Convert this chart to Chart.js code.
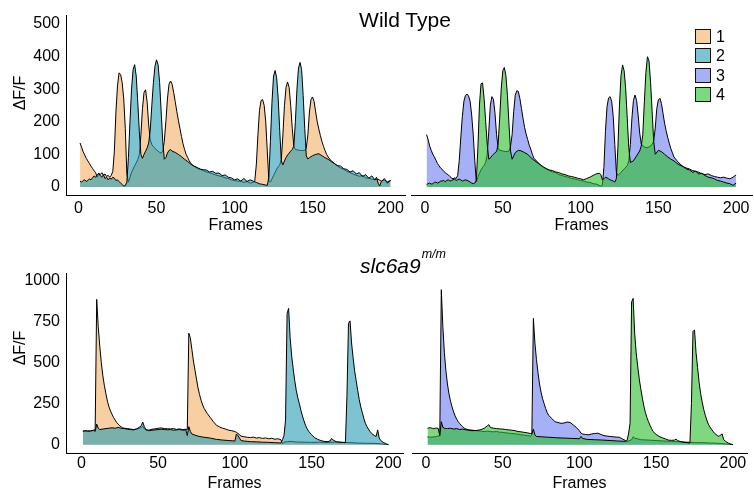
<!DOCTYPE html>
<html>
<head>
<meta charset="utf-8">
<script src="https://cdn.jsdelivr.net/npm/chart.js@4.4.1/dist/chart.umd.min.js"></script>
<style>
  body { margin: 0; background: #fff; font-family: "Liberation Sans", Arial, sans-serif; color: #000; }
  #wrap { position: relative; width: 754px; height: 493px; overflow: hidden; }
  canvas { position: absolute; }
  .heading { position: absolute; font-size: 21px; line-height: 21px; white-space: nowrap; }
  .ylab { position: absolute; width: 60px; height: 20px; line-height: 20px; font-size: 16px; text-align: center; transform: rotate(-90deg); }
  .key { position: absolute; left: 695px; width: 14px; height: 13px; border: 1px solid #111; }
  .keytxt { position: absolute; left: 716px; font-size: 16px; line-height: 16px; }
</style>
</head>
<body>
<div id="wrap">
  <canvas id="wtLeft" width="408" height="240" style="left:0;top:0"></canvas>
  <canvas id="wtRight" width="348" height="240" style="left:406px;top:0"></canvas>
  <canvas id="mutLeft" width="406" height="253" style="left:0;top:240px"></canvas>
  <canvas id="mutRight" width="348" height="253" style="left:406px;top:240px"></canvas>
  <div class="heading" style="left:305px;top:9px;width:200px;text-align:center">Wild Type</div>
  <div class="heading" style="left:360px;top:255px"><i>slc6a9</i><i style="font-size:12.5px;position:relative;top:-15px;margin-left:1px">m/m</i></div>
  <div class="ylab" style="left:-10px;top:83px">ΔF/F</div>
  <div class="ylab" style="left:-10px;top:338px">ΔF/F</div>
  <div id="legend"></div>
</div>
<script>
// frame ticks and y ticks
const frameTicks = [0, 50, 100, 150, 200];
const wtTicks = [0, 100, 200, 300, 400, 500];
const mutTicks = [0, 250, 500, 750, 1000];
const cellLabels = ['1', '2', '3', '4'];
const cellColors = ['rgba(243,175,100,0.6)', 'rgba(38,155,178,0.6)', 'rgba(107,123,240,0.6)', 'rgba(42,190,42,0.6)'];

// Wild type, [frame, dF/F]
const wtCell1 = [[1,135],[2,122],[3,108],[4,98],[5,88],[6,80],[7,72],[8,64],[9,57],[10,50],[11,44],[12,30],[13,42],[14,38],[15,44],[16,36],[17,40],[18,32],[19,36],[20,30],[21,36],[22,48],[23,110],[24,230],[25,310],[26,350],[27,345],[28,320],[29,270],[30,180],[31,40],[32,15],[33,30],[34,45],[35,55],[36,65],[37,74],[38,84],[39,100],[40,160],[41,240],[42,290],[43,298],[44,260],[45,190],[46,145],[47,130],[48,124],[49,118],[50,114],[51,110],[52,106],[53,104],[54,110],[55,140],[56,200],[57,270],[58,315],[59,325],[60,315],[61,290],[62,262],[63,232],[64,205],[65,180],[66,155],[67,132],[68,115],[69,100],[70,90],[71,80],[72,72],[74,64],[76,58],[78,54],[80,50],[82,46],[84,44],[86,40],[88,37],[90,34],[92,32],[94,28],[96,26],[98,22],[100,20],[102,18],[104,18],[106,14],[108,17],[110,12],[112,14],[113,20],[114,70],[115,160],[116,235],[117,265],[118,268],[119,250],[120,200],[121,110],[122,20],[123,15],[124,25],[125,35],[126,45],[127,55],[128,62],[129,68],[130,85],[131,160],[132,250],[133,305],[134,322],[135,305],[136,250],[137,180],[138,125],[139,115],[140,114],[141,113],[142,112],[143,112],[144,112],[145,112],[146,120],[147,160],[148,230],[149,268],[150,276],[151,262],[152,230],[153,200],[154,178],[155,158],[156,140],[157,125],[158,112],[159,100],[160,92],[162,80],[164,72],[166,64],[168,58],[170,54],[172,48],[174,44],[176,40],[178,36],[180,33],[182,35],[184,28],[186,27],[188,24],[190,22],[192,24],[194,18],[196,21],[198,16],[200,20]];
const wtCell2 = [[1,18],[2,15],[3,20],[4,22],[5,17],[6,20],[7,25],[8,22],[9,28],[10,34],[11,30],[12,38],[13,42],[14,34],[15,30],[16,38],[17,26],[18,30],[19,22],[20,28],[21,24],[22,30],[23,27],[24,20],[25,22],[26,17],[27,12],[28,8],[29,3],[30,4],[31,15],[32,90],[33,200],[34,300],[35,360],[36,375],[37,340],[38,260],[39,170],[40,100],[41,88],[42,100],[43,110],[44,120],[45,135],[46,175],[47,250],[48,320],[49,370],[50,390],[51,375],[52,320],[53,230],[54,140],[55,85],[56,90],[57,104],[58,112],[59,115],[60,110],[62,106],[64,100],[66,93],[68,85],[70,78],[72,70],[74,64],[76,60],[78,55],[80,53],[82,52],[84,46],[86,48],[88,42],[90,43],[92,35],[94,37],[96,30],[98,28],[100,22],[102,25],[104,18],[106,26],[108,17],[110,22],[112,18],[114,14],[116,10],[118,8],[120,6],[121,5],[122,30],[123,140],[124,260],[125,340],[126,357],[127,335],[128,270],[129,170],[130,80],[131,68],[132,80],[133,90],[134,98],[135,104],[136,110],[137,115],[138,125],[139,200],[140,300],[141,365],[142,382],[143,360],[144,280],[145,180],[146,95],[147,86],[148,90],[150,96],[152,100],[154,102],[156,96],[158,90],[160,85],[162,78],[164,72],[166,66],[168,64],[170,56],[172,54],[174,46],[176,50],[178,40],[180,44],[182,32],[184,38],[186,27],[188,34],[190,22],[191,30],[192,12],[193,3],[194,16],[196,26],[198,12],[200,20]];
const wtCell3 = [[1,160],[2,145],[3,125],[4,112],[5,100],[6,92],[7,82],[8,72],[9,65],[10,58],[11,54],[12,48],[13,44],[14,40],[15,37],[16,32],[17,28],[18,25],[19,28],[20,26],[21,35],[22,80],[23,150],[24,215],[25,262],[26,280],[27,284],[28,278],[29,262],[30,220],[31,160],[32,80],[33,15],[34,30],[35,42],[36,52],[37,60],[38,66],[39,75],[40,100],[41,170],[42,250],[43,276],[44,268],[45,225],[46,160],[47,120],[48,112],[50,110],[52,108],[54,110],[55,125],[56,160],[57,230],[58,280],[59,294],[60,292],[61,270],[62,240],[63,210],[64,182],[65,162],[66,145],[67,128],[68,115],[69,100],[70,88],[72,78],[74,68],[76,60],[78,55],[80,50],[82,46],[84,44],[86,38],[88,35],[90,32],[92,30],[94,26],[96,25],[98,22],[100,20],[102,18],[104,15],[106,14],[108,10],[110,9],[112,5],[113,3],[114,5],[115,60],[116,170],[117,245],[118,272],[119,276],[120,262],[121,215],[122,130],[123,45],[124,35],[126,45],[128,55],[130,65],[131,80],[132,130],[133,210],[134,265],[135,281],[136,265],[137,220],[138,165],[139,132],[140,126],[142,120],[144,122],[146,130],[147,140],[148,180],[149,240],[150,266],[151,271],[152,255],[153,225],[154,195],[155,172],[156,152],[157,134],[158,118],[159,105],[160,92],[162,80],[164,70],[166,62],[168,58],[170,55],[172,50],[174,48],[176,45],[178,40],[180,38],[182,40],[184,35],[186,32],[188,30],[190,28],[192,30],[194,27],[196,25],[198,30],[200,37]];
const wtCell4 = [[1,8],[2,10],[3,12],[4,9],[5,10],[6,14],[7,15],[8,12],[9,14],[10,18],[11,18],[12,20],[13,16],[14,20],[15,22],[16,18],[17,20],[18,22],[19,24],[20,20],[21,22],[22,24],[23,22],[24,18],[25,20],[26,22],[27,20],[28,18],[29,15],[30,12],[31,10],[32,12],[33,20],[34,120],[35,250],[36,315],[37,318],[38,270],[39,200],[40,130],[41,85],[42,88],[43,95],[44,100],[45,105],[46,108],[47,130],[48,210],[49,300],[50,355],[51,365],[52,340],[53,280],[54,190],[55,110],[56,85],[57,95],[58,105],[60,112],[62,110],[64,105],[66,100],[68,90],[70,82],[72,75],[74,68],[76,62],[78,56],[80,52],[82,50],[84,46],[86,44],[88,40],[90,38],[92,34],[94,32],[96,30],[98,27],[100,25],[102,22],[104,26],[106,30],[108,35],[110,40],[112,42],[113,38],[114,22],[115,25],[116,30],[117,28],[118,25],[119,22],[120,20],[121,18],[122,15],[123,25],[124,120],[125,250],[126,340],[127,373],[128,355],[129,300],[130,210],[131,120],[132,75],[134,80],[136,95],[138,110],[139,125],[140,160],[141,260],[142,350],[143,398],[144,385],[145,320],[146,230],[147,140],[148,100],[150,112],[152,108],[154,100],[156,92],[158,85],[160,80],[162,72],[164,66],[166,62],[168,55],[170,52],[172,45],[174,48],[176,40],[178,42],[180,35],[182,30],[184,28],[186,25],[188,20],[190,18],[192,15],[194,12],[196,10],[198,5],[200,12]];

// slc6a9 m/m
const mutCell1 = [[1,82],[2,84],[3,85],[4,83],[5,84],[6,82],[7,86],[8,88],[9,92],[10,886],[11,720],[12,600],[13,500],[14,420],[15,360],[16,310],[17,265],[18,230],[19,205],[20,185],[21,165],[22,150],[23,135],[24,125],[25,115],[26,108],[27,102],[28,100],[30,98],[32,95],[34,92],[36,95],[38,100],[39,105],[40,112],[41,96],[42,90],[44,88],[46,94],[48,96],[50,100],[52,102],[54,98],[56,97],[58,96],[60,98],[62,93],[64,96],[66,92],[68,94],[69,92],[70,680],[71,650],[72,580],[73,510],[74,455],[75,400],[76,345],[77,305],[78,270],[79,242],[80,220],[82,190],[84,165],[86,140],[88,118],[90,108],[92,100],[94,95],[96,88],[98,85],[100,80],[101,75],[102,68],[104,52],[106,48],[108,45],[110,43],[112,46],[114,40],[116,43],[118,38],[120,41],[122,36],[124,39],[126,33],[128,36],[130,30],[131,5],[132,15],[134,18],[136,20],[140,16],[145,15],[150,14],[155,15],[160,13],[165,16],[170,14],[175,12],[180,10],[185,8],[190,8],[195,5],[200,0]];
const mutCell2 = [[1,82],[2,83],[3,84],[4,82],[5,82],[6,84],[7,85],[8,88],[9,80],[10,125],[11,100],[12,92],[14,95],[16,98],[18,100],[20,103],[22,100],[24,105],[26,100],[28,98],[30,94],[32,92],[34,90],[36,96],[38,108],[39,115],[40,138],[41,110],[42,92],[44,85],[46,88],[48,90],[50,92],[52,94],[54,92],[56,90],[58,92],[60,88],[62,90],[64,92],[66,88],[68,90],[69,55],[70,110],[71,80],[72,65],[74,58],[76,52],[78,48],[80,45],[84,40],[88,32],[92,28],[96,25],[100,22],[101,65],[102,55],[104,25],[106,22],[108,20],[110,18],[114,17],[118,15],[122,14],[126,12],[130,10],[131,30],[132,55],[133,150],[134,800],[135,831],[136,650],[137,540],[138,460],[139,390],[140,330],[141,285],[142,250],[143,210],[144,175],[145,145],[146,118],[147,98],[148,82],[150,60],[152,42],[154,32],[156,25],[158,20],[160,18],[162,22],[163,38],[164,28],[166,18],[168,15],[170,14],[172,12],[173,300],[174,740],[175,755],[176,620],[177,530],[178,450],[179,390],[180,330],[181,275],[182,230],[183,195],[184,160],[185,130],[186,110],[187,95],[188,80],[189,70],[190,60],[191,55],[192,50],[193,90],[194,40],[195,25],[196,18],[197,12],[198,8],[199,3],[200,0]];
const mutCell3 = [[1,48],[2,46],[3,45],[4,47],[5,47],[6,49],[7,50],[8,52],[9,55],[10,945],[11,720],[12,560],[13,450],[14,370],[15,310],[16,265],[17,230],[18,200],[19,175],[20,155],[21,140],[22,128],[23,118],[24,110],[25,100],[26,96],[28,90],[30,88],[32,86],[34,84],[36,82],[38,80],[40,82],[42,80],[44,78],[46,80],[48,76],[50,75],[52,72],[54,70],[56,68],[58,66],[60,64],[62,60],[64,58],[66,55],[68,52],[69,60],[70,770],[71,620],[72,520],[73,440],[74,370],[75,320],[76,280],[77,250],[78,220],[79,195],[80,178],[82,160],[84,140],[86,135],[88,130],[90,132],[92,138],[94,135],[96,120],[98,105],[100,85],[101,70],[102,65],[104,62],[106,60],[108,65],[110,68],[112,70],[114,62],[116,55],[118,52],[120,50],[122,48],[124,46],[126,45],[128,35],[130,25],[131,20],[132,22],[134,30],[135,48],[136,40],[138,35],[140,30],[145,28],[150,25],[155,22],[160,20],[165,18],[170,15],[175,12],[180,12],[185,10],[190,8],[195,5],[200,0]];
const mutCell4 = [[1,100],[2,102],[3,103],[4,100],[5,98],[6,100],[7,101],[8,98],[9,55],[10,140],[11,105],[12,100],[14,98],[16,100],[18,95],[20,98],[22,92],[24,95],[26,90],[28,88],[30,85],[32,86],[34,88],[36,92],[38,100],[40,115],[41,122],[42,105],[44,100],[46,98],[48,96],[50,95],[52,92],[54,90],[56,88],[58,85],[60,80],[62,78],[64,75],[66,72],[68,68],[69,65],[70,95],[71,60],[72,50],[75,48],[80,45],[85,42],[90,40],[95,38],[100,36],[101,50],[102,38],[105,32],[110,30],[115,28],[120,25],[125,22],[130,20],[131,25],[132,65],[133,130],[134,870],[135,892],[136,680],[137,560],[138,475],[139,400],[140,340],[141,285],[142,235],[143,195],[144,165],[145,140],[146,118],[147,98],[148,80],[150,62],[152,50],[154,42],[156,35],[158,28],[160,26],[162,28],[163,34],[164,25],[166,18],[168,14],[170,12],[172,10],[173,250],[174,690],[175,700],[176,560],[177,470],[178,380],[179,310],[180,260],[181,215],[182,180],[183,150],[184,125],[185,108],[186,95],[187,82],[188,70],[189,62],[190,55],[191,50],[192,60],[193,65],[194,30],[195,22],[196,15],[197,10],[198,6],[199,2],[200,0]];

Chart.defaults.font.family = '"Liberation Sans", Arial, sans-serif';
Chart.defaults.color = '#000';

const toXY = pairs => pairs.map(([x, y]) => ({ x, y }));

function makePanel(id, under, over, colUnder, colOver, o) {
    return new Chart(document.getElementById(id), {
        type: 'line',
        data: {
            datasets: [
                { data: toXY(under), backgroundColor: colUnder, fill: 'origin', order: 2 },
                { data: toXY(over), backgroundColor: colOver, fill: 'origin', order: 1 }
            ]
        },
        options: {
            responsive: false,
            animation: false,
            layout: { padding: o.pad },
            elements: {
                point: { radius: 0 },
                line: { borderColor: '#000', borderWidth: 1, tension: 0, borderJoinStyle: 'round' }
            },
            plugins: { legend: { display: false }, tooltip: { enabled: false } },
            scales: {
                x: {
                    type: 'linear', min: o.xMin, max: o.xMax,
                    grid: { display: false, drawTicks: false },
                    border: { display: true, color: '#000', width: 1 },
                    afterBuildTicks: s => { s.ticks = frameTicks.map(v => ({ value: v })); },
                    afterFit: s => { s.height = o.xH; },
                    ticks: { font: { size: 16 }, color: '#000', padding: o.xPad, autoSkip: false, maxRotation: 0, callback: v => String(v) },
                    title: { display: true, text: 'Frames', font: { size: 16 }, color: '#000', padding: { top: 0, bottom: o.titlePad } }
                },
                y: {
                    display: o.showY, min: o.yMin, max: o.yMax,
                    grid: { display: false, drawTicks: false },
                    border: { display: true, color: '#000', width: 1 },
                    afterBuildTicks: s => { s.ticks = o.yTicks.map(v => ({ value: v })); },
                    afterFit: s => { s.width = o.showY ? 66 : 0; },
                    ticks: { font: { size: 16 }, color: '#000', padding: 6, autoSkip: false, callback: v => String(v) }
                }
            }
        }
    });
}

const topRow = { yMin: -24.5, yMax: 525.5, yTicks: wtTicks, xH: 45, xPad: 4, titlePad: 5 };
const bottomRow = { yMin: -51, yMax: 1047, yTicks: mutTicks, xH: 40, xPad: 1, titlePad: 0 };

makePanel('wtLeft', wtCell1, wtCell2, cellColors[0], cellColors[1],
    { ...topRow, showY: true, xMin: -8, xMax: 209.3, pad: { top: 15, right: 2, left: 0, bottom: 0 } });
makePanel('wtRight', wtCell3, wtCell4, cellColors[2], cellColors[3],
    { ...topRow, showY: false, xMin: -9, xMax: 210.2, pad: { top: 15, right: 2, left: 5, bottom: 0 } });
makePanel('mutLeft', mutCell1, mutCell2, cellColors[0], cellColors[1],
    { ...bottomRow, showY: true, xMin: -10, xMax: 209.5, pad: { top: 33, right: 3, left: 0, bottom: 0 } });
makePanel('mutRight', mutCell3, mutCell4, cellColors[2], cellColors[3],
    { ...bottomRow, showY: false, xMin: -9.1, xMax: 209.2, pad: { top: 33, right: 7, left: 6, bottom: 0 } });

// legend in the top right
const legend = document.getElementById('legend');
cellLabels.forEach((label, i) => {
    const y = 29 + i * 19.4;
    const key = document.createElement('div');
    key.className = 'key';
    key.style.top = y + 'px';
    key.style.background = cellColors[i];
    legend.appendChild(key);
    const txt = document.createElement('div');
    txt.className = 'keytxt';
    txt.style.top = y + 'px';
    txt.textContent = label;
    legend.appendChild(txt);
});
</script>
</body>
</html>
